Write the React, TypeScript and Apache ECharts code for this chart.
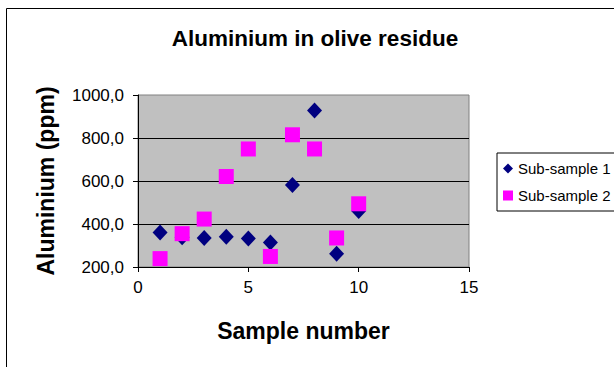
import React, { useEffect, useRef } from "react";
import * as echarts from "echarts";

const sampleNumbers = [1, 2, 3, 4, 5, 6, 7, 8, 9, 10];
const subSample1 = [361, 338, 335, 341, 333, 314, 581, 928, 262, 460];
const subSample2 = [239, 355, 423, 621, 749, 249, 815, 749, 335, 494];
const seriesNames = ["Sub-sample 1", "Sub-sample 2"];

const FONT = "'Liberation Sans', Arial, sans-serif";

export default function App() {
  const ref = useRef<HTMLDivElement>(null);
  useEffect(() => {
    if (!ref.current) return;
    const chart = echarts.init(ref.current, undefined, { renderer: "svg" });
    chart.setOption({
      animation: false,
      backgroundColor: "#ffffff",
      textStyle: { fontFamily: FONT },
      title: {
        text: "Aluminium in olive residue",
        left: 310,
        top: 22,
        textAlign: "center",
        textStyle: { fontFamily: FONT, fontSize: 22.5, fontWeight: "bold", color: "#000" },
      },
      graphic: [
        {
          type: "polyline",
          shape: { points: [[6.5, 400], [6.5, 8.5], [700, 8.5]] },
          style: { stroke: "#000", lineWidth: 1, fill: "none" },
          silent: true,
        },
      ],
      legend: {
        orient: "vertical",
        left: 497,
        top: 153,
        width: 130,
        borderColor: "#000",
        borderWidth: 1,
        padding: [8, 30, 8, 6],
        itemGap: 12,
        itemWidth: 10,
        itemHeight: 10,
        textStyle: { fontFamily: FONT, fontSize: 15, color: "#000", padding: [0, 0, 0, 0] },
        data: [
          { name: seriesNames[0], icon: "diamond" },
          { name: seriesNames[1], icon: "rect" },
        ],
      },
      grid: {
        left: 138,
        top: 95,
        right: 145,
        bottom: 100,
        show: true,
        backgroundColor: "#c0c0c0",
        borderColor: "#808080",
        borderWidth: 1,
      },
      xAxis: {
        type: "value",
        min: 0,
        max: 15,
        interval: 5,
        name: "Sample number",
        nameLocation: "middle",
        nameGap: 52,
        nameTextStyle: { fontFamily: FONT, fontSize: 23, fontWeight: "bold", color: "#000" },
        axisLine: { show: true, onZero: false, lineStyle: { color: "#000", width: 1 } },
        axisTick: { show: true, inside: false, length: 5, lineStyle: { color: "#000" } },
        axisLabel: { fontFamily: FONT, fontSize: 17, color: "#000", margin: 12 },
        splitLine: { show: false },
      },
      yAxis: {
        type: "value",
        min: 200,
        max: 1000,
        interval: 200,
        name: "Aluminium (ppm)",
        nameLocation: "middle",
        nameGap: 81,
        nameRotate: 90,
        nameTextStyle: { fontFamily: FONT, fontSize: 23, fontWeight: "bold", color: "#000" },
        axisLine: { show: true, onZero: false, lineStyle: { color: "#000", width: 1 } },
        axisTick: { show: true, inside: false, length: 5, lineStyle: { color: "#000" } },
        axisLabel: {
          fontFamily: FONT,
          fontSize: 17,
          color: "#000",
          margin: 14,
          formatter: (v: number) => v.toFixed(1).replace(".", ","),
        },
        splitLine: { show: true, showMinLine: false, showMaxLine: false, lineStyle: { color: "#000", width: 1 } },
      },
      series: [
        {
          name: seriesNames[0],
          type: "scatter",
          symbol: "diamond",
          symbolSize: [15, 16],
          itemStyle: { color: "#000080", opacity: 1 },
          data: sampleNumbers.map((x, i) => [x, subSample1[i]]),
          z: 2,
        },
        {
          name: seriesNames[1],
          type: "scatter",
          symbol: "rect",
          symbolSize: 15,
          itemStyle: { color: "#ff00ff", opacity: 1 },
          data: sampleNumbers.map((x, i) => [x, subSample2[i]]),
          z: 3,
        },
      ],
    });
    return () => chart.dispose();
  }, []);
  return <div ref={ref} style={{ width: 614, height: 367, position: "absolute", left: 0, top: 0 }} />;
}
